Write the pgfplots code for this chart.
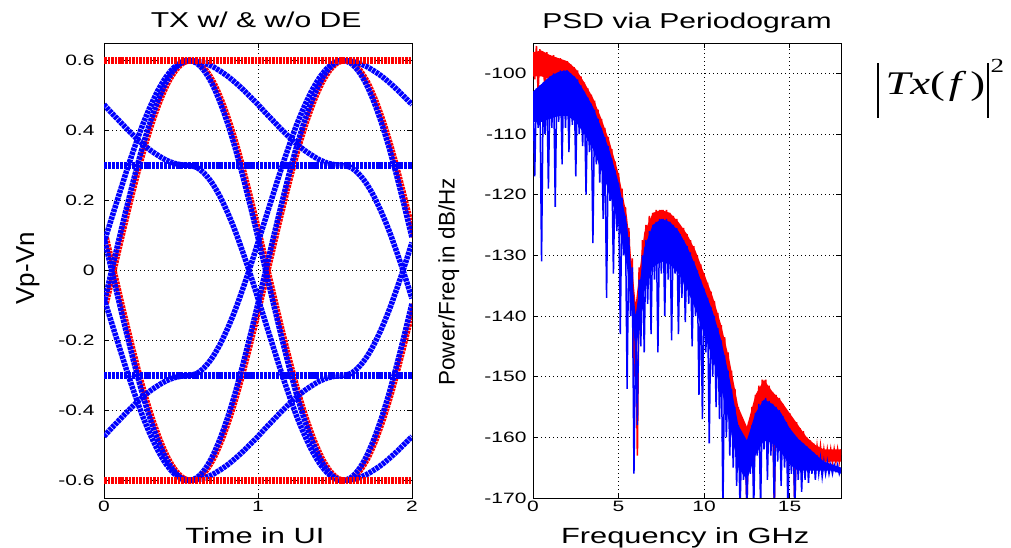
\documentclass[border=0pt]{standalone}
\usepackage{pgfplots}
\pgfplotsset{compat=1.18}
\usepackage{pgfplotstable}
\usepackage{graphicx}
\usepackage{fontspec}
\setmainfont{Liberation Sans}[FakeStretch=1.4]
\newfontfamily\rotfont{Liberation Sans}
\newfontfamily\formfont{Liberation Serif}[FakeStretch=1.35]

\pgfplotstableread{
x xr b2 b2n b3 b3n b4 b4n alt altn
0.00 0.015 0.080 -0.080 0.094 -0.094 0.474 -0.474 -0.094 0.094
0.05 0.065 0.150 -0.150 0.000 0.000 0.450 -0.450 0.000 0.000
0.10 0.115 0.220 -0.220 -0.094 0.094 0.427 -0.427 0.094 -0.094
0.15 0.165 0.289 -0.289 -0.185 0.185 0.404 -0.404 0.185 -0.185
0.20 0.215 0.354 -0.354 -0.272 0.272 0.382 -0.382 0.272 -0.272
0.25 0.265 0.415 -0.415 -0.353 0.353 0.362 -0.362 0.353 -0.353
0.30 0.315 0.468 -0.468 -0.424 0.424 0.344 -0.344 0.424 -0.424
0.35 0.365 0.514 -0.514 -0.485 0.485 0.329 -0.329 0.485 -0.485
0.40 0.415 0.551 -0.551 -0.535 0.535 0.316 -0.316 0.535 -0.535
0.45 0.465 0.578 -0.578 -0.571 0.571 0.307 -0.307 0.571 -0.571
0.50 0.515 0.595 -0.595 -0.593 0.593 0.302 -0.302 0.593 -0.593
0.55 0.565 0.600 -0.600 -0.600 0.600 0.300 -0.300 0.600 -0.600
0.60 0.615 0.593 -0.593 -0.598 0.598 0.295 -0.295 0.593 -0.593
0.65 0.665 0.571 -0.571 -0.593 0.593 0.278 -0.278 0.571 -0.571
0.70 0.715 0.535 -0.535 -0.584 0.584 0.251 -0.251 0.535 -0.535
0.75 0.765 0.485 -0.485 -0.571 0.571 0.214 -0.214 0.485 -0.485
0.80 0.815 0.424 -0.424 -0.556 0.556 0.168 -0.168 0.424 -0.424
0.85 0.865 0.353 -0.353 -0.538 0.538 0.115 -0.115 0.353 -0.353
0.90 0.915 0.272 -0.272 -0.518 0.518 0.054 -0.054 0.272 -0.272
0.95 0.965 0.185 -0.185 -0.496 0.496 -0.011 0.011 0.185 -0.185
1.00 1.015 0.094 -0.094 -0.474 0.474 -0.080 0.080 0.094 -0.094
1.05 1.065 0.000 0.000 -0.450 0.450 -0.150 0.150 0.000 0.000
1.10 1.115 -0.094 0.094 -0.427 0.427 -0.220 0.220 -0.094 0.094
1.15 1.165 -0.185 0.185 -0.404 0.404 -0.289 0.289 -0.185 0.185
1.20 1.215 -0.272 0.272 -0.382 0.382 -0.354 0.354 -0.272 0.272
1.25 1.265 -0.353 0.353 -0.362 0.362 -0.415 0.415 -0.353 0.353
1.30 1.315 -0.424 0.424 -0.344 0.344 -0.468 0.468 -0.424 0.424
1.35 1.365 -0.485 0.485 -0.329 0.329 -0.514 0.514 -0.485 0.485
1.40 1.415 -0.535 0.535 -0.316 0.316 -0.551 0.551 -0.535 0.535
1.45 1.465 -0.571 0.571 -0.307 0.307 -0.578 0.578 -0.571 0.571
1.50 1.515 -0.593 0.593 -0.302 0.302 -0.595 0.595 -0.593 0.593
1.55 1.565 -0.600 0.600 -0.300 0.300 -0.600 0.600 -0.600 0.600
1.60 1.615 -0.598 0.598 -0.295 0.295 -0.593 0.593 -0.593 0.593
1.65 1.665 -0.593 0.593 -0.278 0.278 -0.571 0.571 -0.571 0.571
1.70 1.715 -0.584 0.584 -0.251 0.251 -0.535 0.535 -0.535 0.535
1.75 1.765 -0.571 0.571 -0.214 0.214 -0.485 0.485 -0.485 0.485
1.80 1.815 -0.556 0.556 -0.168 0.168 -0.424 0.424 -0.424 0.424
1.85 1.865 -0.538 0.538 -0.115 0.115 -0.353 0.353 -0.353 0.353
1.90 1.915 -0.518 0.518 -0.054 0.054 -0.272 0.272 -0.272 0.272
1.95 1.965 -0.496 0.496 0.011 -0.011 -0.185 0.185 -0.185 0.185
2.00 2.015 -0.474 0.474 0.080 -0.080 -0.094 0.094 -0.094 0.094
}\eyetab

\pgfplotstableread{
x hi lo
0 0.3 -0.3
2 0.3 -0.3
}\flatB

\pgfplotstableread{
x hi lo
0 0.6 -0.6
2 0.6 -0.6
}\flatR

% solid part of the red band (upper edge, then lower edge back)
\pgfplotstableread{
f y
0.0 -96.5
0.5 -96.25
1.0 -97
1.5 -97.5
2.0 -98
2.5 -99.25
3.0 -101.5
3.5 -104
4.0 -107.5
4.5 -111.5
5.0 -116.5
5.5 -123.75
6.0 -138
6.5 -126.25
7.0 -123
7.5 -122.5
8.0 -123
8.5 -124.5
9.0 -126.5
9.5 -129.25
10.0 -133
10.5 -136.75
11.0 -141.5
11.5 -147.5
12.0 -155
12.5 -158.25
13.0 -153
13.5 -150.5
14.0 -152.5
14.5 -154
15.0 -156
15.5 -158
16.0 -160
16.5 -161.25
17.0 -162
17.5 -162
18.0 -162
18.0 -164
17.5 -164
17.0 -164
16.5 -164
16.0 -163.5
15.5 -162
15.0 -160.5
14.5 -158.5
14.0 -157
13.5 -155
13.0 -157.5
12.5 -163
12.0 -160
11.5 -152
11.0 -146
10.5 -141
10.0 -137.5
9.5 -133.5
9.0 -131
8.5 -129
8.0 -127.5
7.5 -127
7.0 -127.5
6.5 -131
6.0 -144
5.5 -128.5
5.0 -121
4.5 -115.5
4.0 -111.5
3.5 -108
3.0 -105.5
2.5 -103
2.0 -102
1.5 -101.5
1.0 -101
0.5 -100.5
0.0 -100.5
}\redband

% solid part of the blue band (upper edge, then lower edge back)
\pgfplotstableread{
f y
0.0 -103
0.5 -101.75
1.0 -100.5
1.5 -99.75
2.0 -99.5
2.5 -100.75
3.0 -103
3.5 -105.5
4.0 -109
4.5 -113
5.0 -118
5.5 -125
6.0 -140
6.5 -128.75
7.0 -125
7.5 -124
8.0 -124.5
8.5 -126
9.0 -128.5
9.5 -131.75
10.0 -135.5
10.5 -139.25
11.0 -144
11.5 -150.5
12.0 -158
12.5 -160.5
13.0 -156
13.5 -153.75
14.0 -154.5
14.5 -156
15.0 -158.5
15.5 -160.25
16.0 -161.5
16.5 -162.75
17.0 -164
17.5 -164.5
18.0 -165
18.0 -166
17.5 -165.5
17.0 -165.5
16.5 -165.5
16.0 -165.5
15.5 -165.5
15.0 -164.5
14.5 -162.5
14.0 -161
13.5 -160.5
13.0 -163
12.5 -167
12.0 -165
11.5 -158
11.0 -152
10.5 -147
10.0 -143
9.5 -139
9.0 -135.5
8.5 -133
8.0 -131.5
7.5 -131
7.0 -132
6.5 -136
6.0 -146
5.5 -132
5.0 -125
4.5 -120
4.0 -116
3.5 -112.5
3.0 -110
2.5 -108
2.0 -107
1.5 -107
1.0 -107.5
0.5 -108
0.0 -108
}\blueband

\pgfplotstableread{
f red blue
0.0 -96.5 -103
0.1 -101 -117
0.2 -95.5 -102.5
0.3 -103 -109
0.4 -96 -102
0.5 -100 -131
0.6 -96.5 -101.5
0.7 -104 -110
0.8 -96.5 -101
0.9 -101 -119
1.0 -97 -100.5
1.1 -104 -109
1.2 -97 -100
1.3 -102 -122
1.4 -97.5 -100
1.5 -103 -108
1.6 -97.5 -99.5
1.7 -103 -115
1.8 -98 -99.5
1.9 -104 -109
2.0 -98 -99.5
2.1 -103 -113
2.2 -98.5 -100
2.3 -105 -108.5
2.4 -99 -100.5
2.5 -104 -117
2.6 -99.5 -101
2.7 -106 -110
2.8 -100.5 -102
2.9 -106 -112
3.0 -101.5 -103
3.1 -108 -120
3.2 -102.5 -104
3.3 -108 -113
3.4 -103.5 -105
3.5 -110 -128
3.6 -104.5 -106
3.7 -111 -115
3.8 -106 -107.5
3.9 -113 -118
4.0 -107.5 -109
4.1 -114 -124
4.2 -109 -110.5
4.3 -116 -137
4.4 -110.5 -112
4.5 -117 -121
4.6 -112.5 -114
4.7 -119 -133
4.8 -114.5 -116
4.9 -121 -126
5.0 -116.5 -118
5.1 -124 -143
5.2 -119 -120.5
5.3 -126 -130
5.4 -122 -123.5
5.5 -130 -152
5.6 -125.5 -127
5.7 -134 -140
5.8 -130.5 -132
5.9 -150 -166
6.0 -140 -142
6.1 -163 -158
6.2 -132 -134
6.3 -140 -145
6.4 -127.5 -130
6.5 -133 -146
6.6 -125 -127.5
6.7 -130 -138
6.8 -123.5 -126
6.9 -129 -143
7.0 -123 -125
7.1 -128 -134
7.2 -122.5 -124.5
7.3 -128 -146
7.4 -122.5 -124
7.5 -128 -133
7.6 -122.5 -124
7.7 -128 -140
7.8 -122.5 -124
7.9 -128 -134
8.0 -123 -124.5
8.1 -129 -144
8.2 -123.5 -125
8.3 -129 -133
8.4 -124 -125.5
8.5 -130 -143
8.6 -125 -126.5
8.7 -131 -137
8.8 -125.5 -127.5
8.9 -132 -141
9.0 -126.5 -128.5
9.1 -133 -138
9.2 -127.5 -129.5
9.3 -134 -145
9.4 -128.5 -131
9.5 -136 -140
9.6 -130 -132.5
9.7 -137 -153
9.8 -131.5 -134
9.9 -139 -157
10.0 -133 -135.5
10.1 -141 -146
10.2 -134.5 -137
10.3 -142 -161
10.4 -136 -138.5
10.5 -144 -150
10.6 -137.5 -140
10.7 -145 -155
10.8 -139.5 -142
10.9 -147 -157
11.0 -141.5 -144
11.1 -149 -172
11.2 -143.5 -146.5
11.3 -151 -160
11.4 -146 -149
11.5 -154 -163
11.6 -149 -152
11.7 -157 -165
11.8 -152 -155
11.9 -160 -168
12.0 -155 -158
12.1 -164 -172
12.2 -158 -160
12.3 -166 -167
12.4 -159 -161
12.5 -172 -172
12.6 -157.5 -160
12.7 -163 -166
12.8 -155 -158
12.9 -168 -172
13.0 -153 -156
13.1 -160 -163
13.2 -151.5 -154.5
13.3 -157 -172
13.4 -150.5 -154
13.5 -158 -162
13.6 -150.5 -153.5
13.7 -157 -167
13.8 -151.5 -154
13.9 -160 -163
14.0 -152.5 -154.5
14.1 -172 -172
14.2 -153 -155
14.3 -160 -164
14.4 -153.5 -155.5
14.5 -162 -168
14.6 -154.5 -156.5
14.7 -161 -165
14.8 -155.5 -157.5
14.9 -166 -172
15.0 -156 -158.5
15.1 -162 -166
15.2 -157 -159.5
15.3 -172 -172
15.4 -157.5 -160
15.5 -163 -167
15.6 -158.5 -160.5
15.7 -163 -169
15.8 -159 -161
15.9 -164 -167
16.0 -160 -161.5
16.1 -164 -167.5
16.2 -160.5 -162
16.3 -164 -166
16.4 -161 -162.5
16.5 -164.5 -167
16.6 -161.5 -163
16.7 -164 -166
16.8 -161.5 -163.5
16.9 -164.5 -166.5
17.0 -162 -164
17.1 -164 -166
17.2 -162 -164
17.3 -164 -166
17.4 -162 -164.5
17.5 -164 -166
17.6 -162 -164.5
17.7 -164 -165.5
17.8 -162 -164.5
17.9 -164 -166
18.0 -162 -165
}\psdtab

\pgfplotsset{
  mstyle/.style={
    scale only axis, width=308bp, height=455bp, anchor=south west,
    axis line style={black, line width=0.9bp},
    tick align=inside, major tick length=5bp,
    tick style={black, line width=0.8bp},
    grid=major,
    grid style={black, line width=0.7bp, dash pattern=on 1bp off 3bp},
    every tick label/.append style={font=\fontsize{15bp}{18bp}\selectfont},
    every axis title/.style={anchor=base, yshift=15bp, font=\fontsize{21.5bp}{25bp}\selectfont},
    every axis x label/.style={anchor=base, yshift=-45bp, font=\fontsize{22bp}{25bp}\selectfont},
    every axis y label/.style={anchor=center, rotate=90},
  },
  eyeB/.style={blue, line width=5.5bp, dash pattern=on 3.2bp off 0.8bp, smooth},
  eyeR/.style={red, line width=5.5bp, dash pattern=on 2.6bp off 0.9bp, smooth},
}

\begin{document}
\begin{tikzpicture}
\useasboundingbox (0,0) rectangle (1011bp,548bp);

\begin{axis}[mstyle, at={(104bp,50bp)},
  xmin=0, xmax=2, ymin=-0.65, ymax=0.65,
  xtick={0,1,2}, xticklabels={0,1,2},
  ytick={-0.6,-0.4,-0.2,0,0.2,0.4,0.6},
  yticklabels={-0.6,-0.4,-0.2,0,0.2,0.4,0.6},
  yticklabel style={xshift=-6bp},
  title={TX w/ \& w/o DE}, title style={at={(0.494,1)}},
  xlabel={Time in UI}, xlabel style={at={(0.49,0)}},
  ylabel={Vp-Vn}, ylabel style={at={(-0.247,0.505)}, font=\rotfont\fontsize{26bp}{30bp}\selectfont},
]
\addplot[eyeR] table[x=xr, y=alt] {\eyetab};
\addplot[eyeR] table[x=xr, y=altn] {\eyetab};
\addplot[eyeB] table[x=x, y=b2] {\eyetab};
\addplot[eyeB] table[x=x, y=b2n] {\eyetab};
\addplot[eyeB] table[x=x, y=b3] {\eyetab};
\addplot[eyeB] table[x=x, y=b3n] {\eyetab};
\addplot[eyeB] table[x=x, y=b4] {\eyetab};
\addplot[eyeB] table[x=x, y=b4n] {\eyetab};
\addplot[eyeB, line width=7bp] table[x=x, y=hi] {\flatB};
\addplot[eyeB, line width=7bp] table[x=x, y=lo] {\flatB};
\addplot[eyeR, line width=6.5bp] table[x=x, y=hi] {\flatR};
\addplot[eyeR, line width=6.5bp] table[x=x, y=lo] {\flatR};
\end{axis}

\begin{axis}[mstyle, at={(533bp,50bp)},
  xmin=0, xmax=18, ymin=-170, ymax=-95,
  xtick={0,5,10,15}, xticklabels={0,5,10,15},
  ytick={-170,-160,-150,-140,-130,-120,-110,-100},
  yticklabels={-170,-160,-150,-140,-130,-120,-110,-100},
  yticklabel style={xshift=-3bp},
  title={PSD via Periodogram}, title style={at={(0.5,1)}},
  xlabel={Frequency in GHz}, xlabel style={at={(0.494,0)}},
  ylabel={Power/Freq in dB/Hz}, ylabel style={at={(-0.273,0.475)}, font=\rotfont\fontsize{22.5bp}{26bp}\selectfont},
]
\addplot[fill=red, draw=none] table[x=f, y=y] {\redband};
\addplot[red, line width=1.6bp] table[x=f, y=red] {\psdtab};
\addplot[fill=blue, draw=none] table[x=f, y=y] {\blueband};
\addplot[blue, line width=1.5bp] table[x=f, y=blue] {\psdtab};
\end{axis}

\node[anchor=base west, inner sep=0pt] at (877bp,453bp) {\formfont\fontsize{33bp}{36bp}\selectfont\raisebox{-23bp}{\rule{1.3bp}{55bp}}\hspace{7bp}\textit{Tx}(\hspace{4bp}\textit{f}\hspace{4bp})\hspace{2bp}\raisebox{-23bp}{\rule{1.3bp}{55bp}}\hspace{2bp}\raisebox{22bp}{\fontsize{20bp}{22bp}\selectfont 2}};
\end{tikzpicture}
\end{document}
